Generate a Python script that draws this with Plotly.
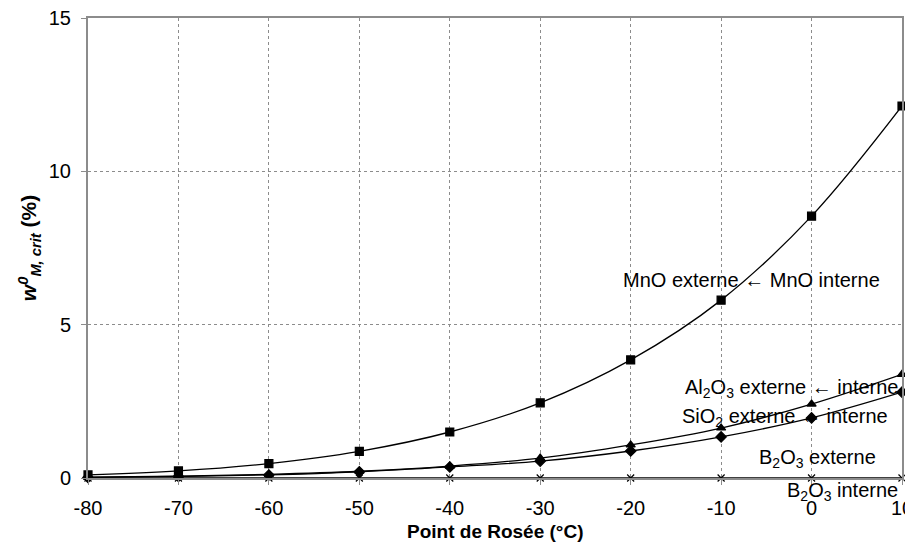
import plotly.graph_objects as go

dew_point = [-80, -70, -60, -50, -40, -30, -20, -10, 0, 10]
x_tick_text = ["-80", "-70", "-60", "-50", "-40", "-30", "-20", "-10", "0", "10"]

mno = [0.10, 0.23, 0.47, 0.87, 1.50, 2.45, 3.85, 5.80, 8.54, 12.13]
al2o3 = [0.03, 0.06, 0.12, 0.22, 0.39, 0.65, 1.08, 1.63, 2.41, 3.38]
sio2 = [0.02, 0.05, 0.10, 0.20, 0.36, 0.55, 0.88, 1.34, 1.96, 2.80]
b2o3 = [0.0, 0.0, 0.0, 0.0, 0.0, 0.0, 0.0, 0.0, 0.0, 0.0]

font = "Liberation Sans, Arial, sans-serif"
grid = "#8c8c8c"

fig = go.Figure()

series = [
    ("MnO", mno, "square", 8),
    ("Al2O3", al2o3, "triangle-up", 8),
    ("SiO2", sio2, "diamond", 8),
    ("B2O3", b2o3, "x-thin", 7),
]
for name, vals, sym, size in series:
    fig.add_trace(go.Scatter(
        x=dew_point, y=vals, name=name, mode="lines+markers",
        line=dict(color="black", width=1.3, shape="spline"),
        marker=dict(symbol=sym, size=size, color="black",
                    line=dict(color="black", width=1.2)),
        cliponaxis=False,
    ))

# (x, y, yshift, text)
labels = [
    (-6.6, 6.46, 0, "MnO externe ← MnO interne"),
    (-2.2, 2.93, 0, "Al<sub>2</sub>O<sub>3</sub> externe ← interne"),
    (-2.9, 1.96, 0, "SiO<sub>2</sub> externe ← interne"),
    (0.7, 0.65, 0, "B<sub>2</sub>O<sub>3</sub> externe"),
    (3.4, 0.0, -13, "B<sub>2</sub>O<sub>3</sub> interne"),
]
for x, y, dy, txt in labels:
    fig.add_annotation(x=x, y=y, yshift=dy, text=txt, showarrow=False,
                       xanchor="center", yanchor="middle",
                       font=dict(family=font, size=20, color="black"))

# x title as annotation so its position can be set exactly
fig.add_annotation(x=0.5, y=0, xref="paper", yref="paper", yshift=-53,
                   text="<b>Point de Rosée (°C)</b>", showarrow=False,
                   xanchor="center", yanchor="middle",
                   font=dict(family=font, size=19, color="black"))

# page body adds an 8px margin, so the figure is 8px smaller on each side
fig.update_layout(
    width=905, height=548,
    margin=dict(l=80, r=11, t=10, b=78, autoexpand=False),
    plot_bgcolor="white", paper_bgcolor="white",
    showlegend=False,
    font=dict(family=font, size=20, color="black"),
    xaxis=dict(
        range=[-80, 10], tickvals=dew_point, ticktext=x_tick_text,
        ticks="outside", ticklen=5, tickcolor=grid, ticklabelstandoff=6,
        ticklabeloverflow="allow",
        showline=True, linecolor=grid, linewidth=2, mirror=True,
        showgrid=True, gridcolor=grid, griddash="dot", gridwidth=1,
        zeroline=False, automargin=False,
    ),
    yaxis=dict(
        range=[0, 15], tickvals=[0, 5, 10, 15], ticks="outside", ticklen=5,
        tickcolor=grid, ticklabelstandoff=6, ticklabeloverflow="allow",
        showline=True, linecolor=grid, linewidth=2, mirror=True,
        showgrid=True, gridcolor=grid, griddash="dot", gridwidth=1,
        zeroline=False, automargin=False,
        title=dict(text="<b><i>w<sup>0</sup><sub>M, crit</sub></i> (%)</b>",
                   font=dict(size=21), standoff=6),
    ),
)

fig.write_html("out.html")
